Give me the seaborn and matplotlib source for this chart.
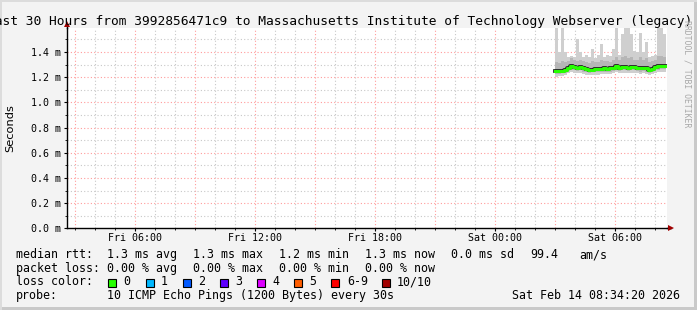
import numpy as np
import pandas as pd
import matplotlib
matplotlib.use("Agg")
import matplotlib.pyplot as plt
import seaborn as sns
from matplotlib.patches import Rectangle

# ---------------- data (ms) ----------------
# hours since Fri 00:00, 9-minute steps starting Sat 03:00
times = [27.0 + 0.15 * i for i in range(37)] + [32.55]
median_ms = [1.247, 1.247, 1.250, 1.260, 1.275, 1.290, 1.280, 1.275, 1.280, 1.270,
             1.265, 1.255, 1.260, 1.265, 1.262, 1.265, 1.270, 1.268, 1.270, 1.275,
             1.285, 1.275, 1.280, 1.280, 1.275, 1.280, 1.278, 1.275, 1.270, 1.275,
             1.270, 1.260, 1.268, 1.280, 1.285, 1.290, 1.290]
smoke_max = [1.65, 1.40, 1.65, 1.40, 1.36, 1.37, 1.36, 1.50, 1.40, 1.36,
             1.38, 1.36, 1.42, 1.35, 1.38, 1.46, 1.36, 1.38, 1.37, 1.42,
             1.65, 1.38, 1.54, 1.65, 1.65, 1.54, 1.41, 1.40, 1.55, 1.40,
             1.48, 1.36, 1.37, 1.38, 1.65, 1.65, 1.54]
smoke_q3 = [1.32, 1.31, 1.33, 1.32, 1.33, 1.35, 1.34, 1.33, 1.34, 1.33,
            1.32, 1.31, 1.33, 1.32, 1.32, 1.34, 1.33, 1.33, 1.32, 1.34,
            1.36, 1.34, 1.36, 1.37, 1.35, 1.36, 1.34, 1.34, 1.36, 1.34,
            1.35, 1.32, 1.33, 1.34, 1.37, 1.37, 1.36]
smoke_q1 = [1.225, 1.225, 1.23, 1.235, 1.25, 1.26, 1.255, 1.25, 1.255, 1.245,
            1.24, 1.235, 1.24, 1.24, 1.24, 1.245, 1.245, 1.245, 1.245, 1.25,
            1.26, 1.25, 1.255, 1.255, 1.25, 1.255, 1.255, 1.25, 1.245, 1.25,
            1.245, 1.235, 1.245, 1.255, 1.26, 1.265, 1.265]
smoke_min = [1.205, 1.21, 1.21, 1.215, 1.23, 1.24, 1.235, 1.23, 1.235, 1.225,
             1.22, 1.215, 1.22, 1.22, 1.22, 1.225, 1.225, 1.225, 1.225, 1.23,
             1.24, 1.23, 1.235, 1.235, 1.23, 1.235, 1.235, 1.23, 1.225, 1.23,
             1.225, 1.215, 1.225, 1.235, 1.24, 1.245, 1.245]

x_ticks = [6, 12, 18, 24, 30]
x_tick_labels = ["Fri 06:00", "Fri 12:00", "Fri 18:00", "Sat 00:00", "Sat 06:00"]
y_ticks = [0.0, 0.2, 0.4, 0.6, 0.8, 1.0, 1.2, 1.4]

title = "Last 30 Hours from 3992856471c9 to Massachusetts Institute of Technology Webserver (legacy)"
loss_labels = ["0", "1", "2", "3", "4", "5", "6-9", "10/10"]
loss_colors = ["#26ff00", "#00b8ff", "#0059ff", "#5e00ff", "#dd00ff", "#ff5e00", "#ff0000", "#a10000"]

def ext(a):
    return list(a) + [a[-1]]

df = pd.DataFrame({"t": times, "median": ext(median_ms), "mx": ext(smoke_max),
                   "q3": ext(smoke_q3), "q1": ext(smoke_q1), "mn": ext(smoke_min)})

# ---------------- figure ----------------
W, H = 697, 310
fig = plt.figure(figsize=(W / 100, H / 100), dpi=100)
fig.patch.set_facecolor("#f3f3f3")

def fx(x):
    return x / W

def fy(y):
    return 1 - y / H

x0, x1 = 66.5, 666.5
ytop, ybot = 28, 228.4
ax = fig.add_axes([fx(x0), fy(ybot), fx(x1) - fx(x0), (ybot - ytop) / H])
ax.set_facecolor("white")

t_start, t_end = 2.5722, 32.5722
ymax = (ybot - ytop) / ((ybot - 52) / 1.4)
ax.set_xlim(t_start, t_end)
ax.set_ylim(0, ymax)

# grid
dot = (0, (1, 2))
for h in np.arange(3, 33):
    if h % 3 == 0:
        ax.axvline(h, color="#ff9b9b", lw=0.8, ls=dot, zorder=1)
    else:
        ax.axvline(h, color="#c8c8c8", lw=0.8, ls=dot, zorder=1)
for v in np.arange(0.1, ymax, 0.1):
    k = int(round(v * 10))
    if k % 2 == 0:
        ax.axhline(v, color="#ff9b9b", lw=0.8, ls=dot, zorder=1)
    else:
        ax.axhline(v, color="#c8c8c8", lw=0.8, ls=dot, zorder=1)

# smoke
ax.fill_between(df["t"], df["mn"], df["mx"], step="post", color="#cfcfcf", lw=0, zorder=2)
ax.fill_between(df["t"], df["q1"], df["q3"], step="post", color="#b6b6b6", lw=0, zorder=3)
ax.fill_between(df["t"], df["median"] - 0.016, df["median"] + 0.016, step="post",
                color="#8c8c8c", lw=0, zorder=4)

# median line
sns.lineplot(data=df, x="t", y="median", ax=ax, drawstyle="steps-post",
             color="#222222", lw=2.7, zorder=5, legend=False)
sns.lineplot(data=df, x="t", y="median", ax=ax, drawstyle="steps-post",
             color="#26ff00", lw=2.2, zorder=6, legend=False)

ax.set_xlabel("")
ax.set_ylabel("")
for s in ["top", "right"]:
    ax.spines[s].set_visible(False)
for s in ["left", "bottom"]:
    ax.spines[s].set_color("#000000")
    ax.spines[s].set_linewidth(1.0)

mono = "DejaVu Sans Mono"
ax.set_xticks(x_ticks)
ax.set_xticklabels(x_tick_labels, fontsize=7.2, family=mono)
ax.set_yticks(y_ticks)
ax.set_yticklabels([f"{v:.1f} m" for v in y_ticks], fontsize=7.2, family=mono)
ax.tick_params(axis="both", length=2, width=0.8, color="#000000")
ax.tick_params(axis="x", pad=1)
ax.tick_params(axis="y", pad=2)
ax.set_xticks(np.arange(3, 33, 1), minor=True)
ax.set_yticks(np.arange(0.1, ymax, 0.1), minor=True)
ax.tick_params(which="minor", length=1.2, width=0.6)

# axis extensions with arrowheads
fig.add_artist(plt.Line2D([fx(x1), fx(671)], [fy(ybot), fy(ybot)], color="black", lw=1.0))
fig.add_artist(plt.Line2D([fx(x0), fx(x0)], [fy(ytop), fy(24)], color="black", lw=1.0))
fig.add_artist(plt.Line2D([fx(671)], [fy(ybot)], marker=">", ms=4, color="#a00000", mew=0))
fig.add_artist(plt.Line2D([fx(x0)], [fy(24)], marker="^", ms=4, color="#a00000", mew=0))

# title and labels
fig.text(fx(339.5), fy(21), title, ha="center", va="center", fontsize=9.3, family=mono,
         color="#000000")
fig.text(fx(10), fy(128), "Seconds", rotation=90, ha="center", va="center", fontsize=8.2,
         family="DejaVu Sans")
fig.text(fx(687), fy(20), "RRDTOOL / TOBI OETIKER", rotation=-90, ha="center", va="top",
         fontsize=5.9, family=mono, color="#a8a8a8")

# legend
lf = 8.4
rows = {
    258: [(16, "median rtt:"), (107, "1.3 ms avg"), (193, "1.3 ms max"), (279, "1.2 ms min"),
          (365, "1.3 ms now"), (451, "0.0 ms sd"), (530, "99.4"), (579, "am/s")],
    271.7: [(16, "packet loss:"), (107, "0.00 % avg"), (193, "0.00 % max"),
            (279, "0.00 % min"), (365, "0.00 % now")],
    285.4: [(16, "loss color:")],
    299: [(16, "probe:"), (107, "10 ICMP Echo Pings (1200 Bytes) every 30s")],
}
for yb, items in rows.items():
    for xx, s in items:
        fig.text(fx(xx), fy(yb), s, ha="left", va="baseline", fontsize=lf, family=mono)
fig.text(fx(680), fy(299), "Sat Feb 14 08:34:20 2026", ha="right", va="baseline",
         fontsize=lf, family=mono)

sq_x = [108, 145.5, 183, 220, 257, 294, 331, 381.5]
lab_x = [123, 160.5, 198, 235, 272, 309, 347, 397]
for sx, lx, lab, c in zip(sq_x, lab_x, loss_labels, loss_colors):
    fig.add_artist(Rectangle((fx(sx), fy(286.5)), 8 / W, 8 / H, facecolor=c,
                             edgecolor="black", lw=0.8))
    fig.text(fx(lx), fy(285.4), lab, ha="left", va="baseline", fontsize=lf, family=mono)

# frame
fig.add_artist(Rectangle((0, 0), 1, 3 / H, facecolor="#c9c9c9", edgecolor="none"))
fig.add_artist(Rectangle((1 - 3 / W, 0), 3 / W, 1, facecolor="#c9c9c9", edgecolor="none"))
fig.add_artist(Rectangle((0, 1 - 2 / H), 1, 2 / H, facecolor="#dcdcdc", edgecolor="none"))
fig.add_artist(Rectangle((0, 0), 2 / W, 1, facecolor="#dcdcdc", edgecolor="none"))

fig.savefig("out.png", dpi=100, facecolor=fig.get_facecolor())
